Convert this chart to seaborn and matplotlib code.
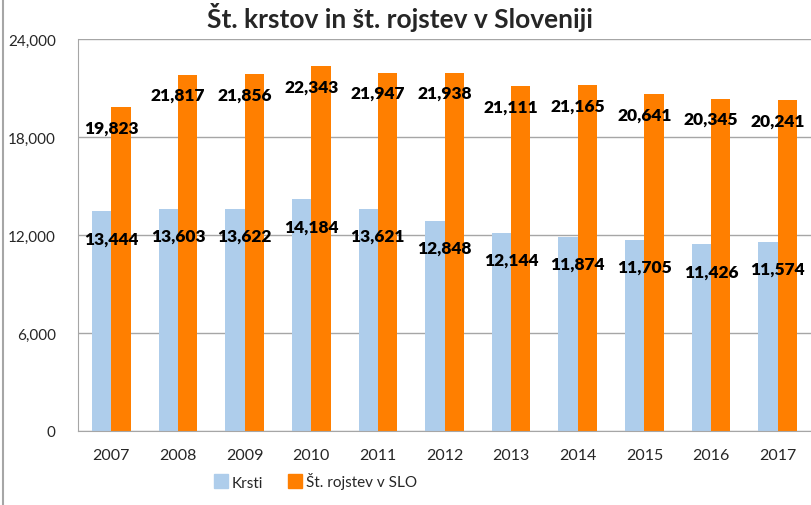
import numpy as np
import pandas as pd
import seaborn as sns
import matplotlib.pyplot as plt
from matplotlib.lines import Line2D
from matplotlib.ticker import FuncFormatter, FixedLocator

years = ["2007", "2008", "2009", "2010", "2011", "2012", "2013", "2014", "2015", "2016", "2017"]
krsti = [13444, 13603, 13622, 14184, 13621, 12848, 12144, 11874, 11705, 11426, 11574]
rojstva = [19823, 21817, 21856, 22343, 21947, 21938, 21111, 21165, 20641, 20345, 20241]
series_names = ["Krsti", "Št. rojstev v SLO"]
colors = ["#AECDEB", "#FF7F00"]

sns.set_style("white")
plt.rcParams["font.family"] = ["Lato", "DejaVu Sans"]

df = pd.DataFrame({
    "year": years * 2,
    "value": krsti + rojstva,
    "series": [series_names[0]] * len(years) + [series_names[1]] * len(years),
})

fig = plt.figure(figsize=(8.11, 5.06), dpi=100)
ax = fig.add_axes([78 / 811, 1 - 432 / 506, 733 / 811, 392 / 506])

sns.barplot(data=df, x="year", y="value", hue="series", palette=colors,
            width=0.58, gap=0, saturation=1, linewidth=0, ax=ax, legend=True, zorder=2)

ax.set_ylim(0, 24000)
ax.set_xlim(-0.5, len(years) - 0.5)
ax.yaxis.set_major_locator(FixedLocator([0, 6000, 12000, 18000, 24000]))
ax.yaxis.set_major_formatter(FuncFormatter(lambda v, p: f"{int(v):,}"))
ax.yaxis.grid(True, color="#A6A6A6", linewidth=1)
ax.set_axisbelow(True)
for s in ["top", "right"]:
    ax.spines[s].set_visible(False)
ax.spines["left"].set_color("#A6A6A6")
ax.spines["bottom"].set_color("#A6A6A6")
ax.tick_params(axis="y", length=0, labelsize=11, pad=16)
ax.tick_params(axis="x", length=0, labelsize=11.5, pad=12)
ax.set_xticks(range(len(years)))
ax.set_xticklabels(years)
# small ticks between categories
ax.set_xticks(np.arange(-0.5, len(years) + 0.5, 1), minor=True)
ax.tick_params(axis="x", which="minor", length=5, color="#A6A6A6", direction="out")
ax.set_xlabel("")
ax.set_ylabel("")

# value labels, centred on each year group
for i in range(len(years)):
    ax.text(i, krsti[i] - 1650, f"{krsti[i]:,}", ha="center", va="center",
            fontsize=12.5, fontweight="heavy", color="black", zorder=5)
    ax.text(i, rojstva[i] - 1250, f"{rojstva[i]:,}", ha="center", va="center",
            fontsize=12.5, fontweight="heavy", color="black", zorder=5)

ax.legend_.remove()
handles = [plt.Rectangle((0, 0), 1, 1, color=c) for c in colors]
fig.legend(handles, series_names, loc="center left", bbox_to_anchor=(200 / 811, 1 - 482 / 506),
           ncol=2, frameon=False, fontsize=11, handlelength=0.9, handleheight=1.0,
           handletextpad=0.3, columnspacing=1.6)

fig.text(400 / 811, 1 - 18 / 506, "Št. krstov in št. rojstev v Sloveniji", ha="center",
         va="center", fontsize=19, fontweight="bold")

# outer chart border on the left
fig.add_artist(Line2D([3 / 811, 3 / 811], [0, 1], color="#A6A6A6", linewidth=1.5,
                      transform=fig.transFigure))

fig.savefig("out.png", dpi=100)
